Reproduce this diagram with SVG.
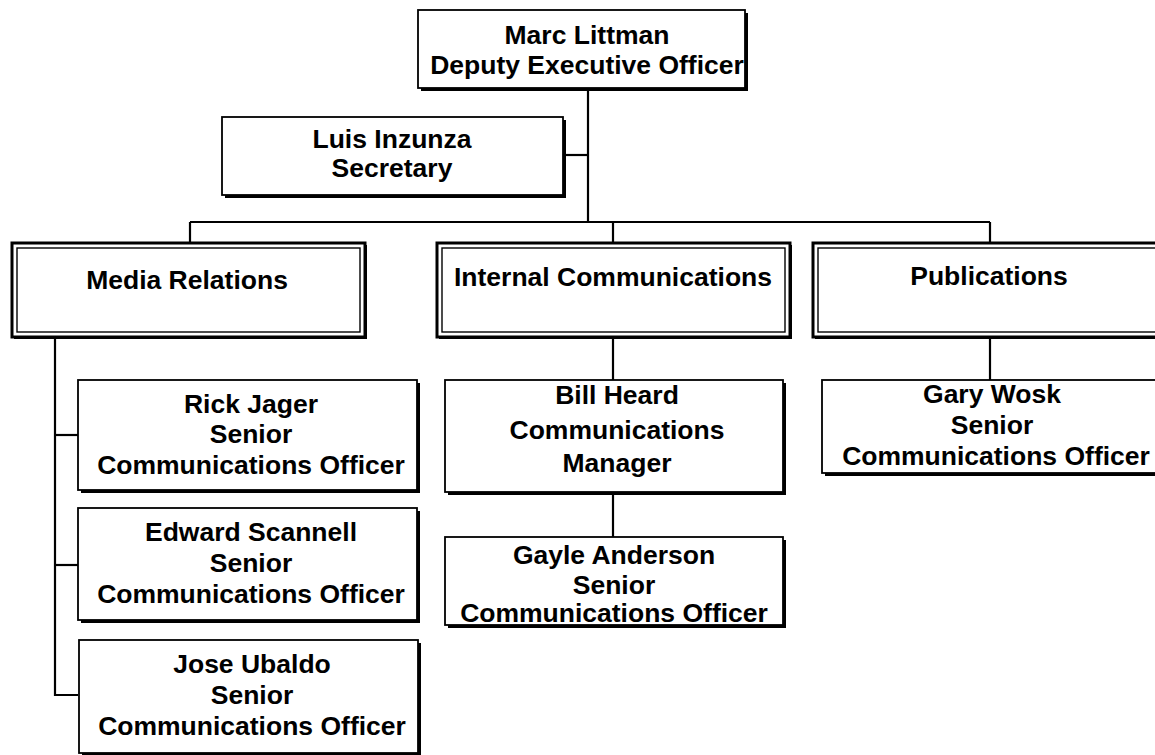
<svg xmlns="http://www.w3.org/2000/svg" width="1155" height="755" viewBox="0 0 1155 755">
<style>
.sh{fill:#000}
.bx{fill:#fff;stroke:#000;stroke-width:1.8}
.dbo{fill:#fff;stroke:#000;stroke-width:3}
.dbi{fill:none;stroke:#000;stroke-width:1.4}
.t{font-family:"Liberation Sans",Arial,sans-serif;font-weight:bold;font-size:26.5px;text-anchor:middle;fill:#000}
.ln{fill:none;stroke:#000;stroke-width:2.2}
</style>
<rect width="1155" height="755" fill="#fff"/>
<g id="connectors">
<path class="ln" d="M588,88 V222"/>
<path class="ln" d="M563,155 H588"/>
<path class="ln" d="M190,222 H990"/>
<path class="ln" d="M190,222 V243"/>
<path class="ln" d="M613,222 V243"/>
<path class="ln" d="M990,222 V243"/>
<path class="ln" d="M55,337 V695 H78"/>
<path class="ln" d="M55,435 H78"/>
<path class="ln" d="M55,565 H78"/>
<path class="ln" d="M613,337 V380"/>
<path class="ln" d="M613,492 V537"/>
<path class="ln" d="M990,337 V380"/>
</g>
<g id="marc">
<rect class="sh" x="421" y="13" width="327" height="78"/>
<rect class="bx" x="418" y="10" width="327" height="78"/>
<text class="t" x="587" y="44">Marc Littman</text>
<text class="t" x="587" y="74">Deputy Executive Officer</text>
</g>
<g id="luis">
<rect class="sh" x="225" y="120" width="341" height="78"/>
<rect class="bx" x="222" y="117" width="341" height="78"/>
<text class="t" x="392" y="148">Luis Inzunza</text>
<text class="t" x="392" y="177">Secretary</text>
</g>
<g id="media">
<rect class="sh" x="14" y="245" width="353" height="94"/>
<rect class="dbo" x="12" y="243" width="353" height="94"/>
<rect class="dbi" x="17" y="248" width="343" height="84"/>
<text class="t" x="187" y="289">Media Relations</text>
</g>
<g id="internal">
<rect class="sh" x="439" y="245" width="353" height="94"/>
<rect class="dbo" x="437" y="243" width="353" height="94"/>
<rect class="dbi" x="442" y="248" width="343" height="84"/>
<text class="t" x="613" y="286">Internal Communications</text>
</g>
<g id="publications">
<rect class="sh" x="815" y="245" width="360" height="94"/>
<rect class="dbo" x="813" y="243" width="360" height="94"/>
<rect class="dbi" x="818" y="248" width="350" height="84"/>
<text class="t" x="989" y="285">Publications</text>
</g>
<g id="rick">
<rect class="sh" x="81" y="383" width="339" height="110"/>
<rect class="bx" x="78" y="380" width="339" height="110"/>
<text class="t" x="251" y="413">Rick Jager</text>
<text class="t" x="251" y="443">Senior</text>
<text class="t" x="251" y="474">Communications Officer</text>
</g>
<g id="edward">
<rect class="sh" x="81" y="511" width="339" height="112"/>
<rect class="bx" x="78" y="508" width="339" height="112"/>
<text class="t" x="251" y="541">Edward Scannell</text>
<text class="t" x="251" y="572">Senior</text>
<text class="t" x="251" y="603">Communications Officer</text>
</g>
<g id="jose">
<rect class="sh" x="82" y="643" width="339" height="114"/>
<rect class="bx" x="79" y="640" width="339" height="113"/>
<text class="t" x="252" y="673">Jose Ubaldo</text>
<text class="t" x="252" y="704">Senior</text>
<text class="t" x="252" y="735">Communications Officer</text>
</g>
<g id="bill">
<rect class="sh" x="448" y="383" width="338" height="112"/>
<rect class="bx" x="445" y="380" width="338" height="112"/>
<text class="t" x="617" y="404">Bill Heard</text>
<text class="t" x="617" y="439">Communications</text>
<text class="t" x="617" y="472">Manager</text>
</g>
<g id="gayle">
<rect class="sh" x="448" y="540" width="338" height="88"/>
<rect class="bx" x="445" y="537" width="338" height="88"/>
<text class="t" x="614" y="564">Gayle Anderson</text>
<text class="t" x="614" y="594">Senior</text>
<text class="t" x="614" y="622">Communications Officer</text>
</g>
<g id="gary">
<rect class="sh" x="825" y="383" width="340" height="93"/>
<rect class="bx" x="822" y="380" width="340" height="93"/>
<text class="t" x="992" y="403">Gary Wosk</text>
<text class="t" x="992" y="434">Senior</text>
<text class="t" x="996" y="465">Communications Officer</text>
</g>
</svg>
